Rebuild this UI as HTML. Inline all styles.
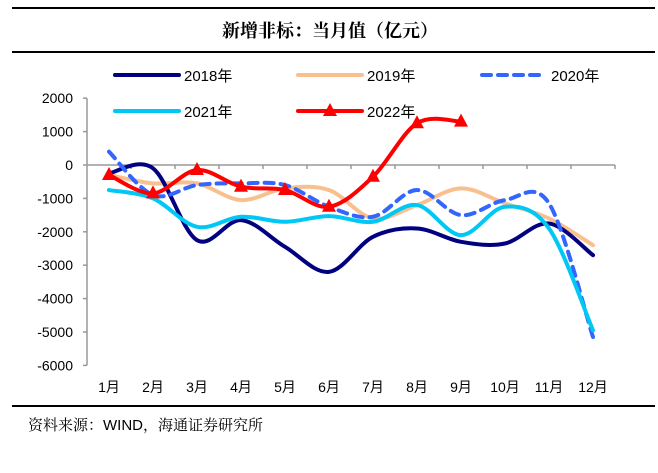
<!DOCTYPE html>
<html><head><meta charset="utf-8"><style>
body{margin:0;background:#fff;}
svg text{font-family:"Liberation Sans","Noto Sans CJK SC",sans-serif;}
</style></head><body>
<svg width="658" height="468" viewBox="0 0 658 468">
<line x1="12" y1="8" x2="655" y2="8" stroke="#000" stroke-width="2"/>
<text x="330" y="37" text-anchor="middle" font-size="18" font-weight="bold" style="font-family:'Noto Serif CJK SC','Noto Sans CJK SC',serif">新增非标：当月值（亿元）</text>
<line x1="12" y1="52" x2="655" y2="52" stroke="#000" stroke-width="2"/>
<g id="legend"></g>
<g id="axes"></g>
<g id="series"></g>
<line x1="12" y1="406" x2="655" y2="406" stroke="#000" stroke-width="2"/>
<text x="28" y="430" font-size="15" style="font-family:'Liberation Sans','Noto Serif CJK SC',serif">资料来源：WIND，海通证券研究所</text>
</svg>
<script>
const months=["1月","2月","3月","4月","5月","6月","7月","8月","9月","10月","11月","12月"];
const yTicks=[2000,1000,0,-1000,-2000,-3000,-4000,-5000,-6000];
const seriesNames=["2018年","2019年","2020年","2021年","2022年"];
const s2018=[-250,-100,-2250,-1650,-2450,-3200,-2150,-1900,-2300,-2350,-1750,-2700];
const s2019=[-300,-550,-550,-1050,-700,-750,-1600,-1200,-700,-1150,-1600,-2400];
const s2020=[400,-900,-600,-550,-600,-1250,-1550,-750,-1500,-1050,-1150,-5150];
const s2021=[-750,-1000,-1850,-1550,-1700,-1530,-1700,-1200,-2100,-1250,-1900,-4950];
const s2022=[-300,-850,-150,-650,-750,-1250,-350,1250,1300];
const NS="http://www.w3.org/2000/svg";
const x0=87,step=44,yZero=165,pxPer=33.4/1000;
function xs(i){return x0+step*(i+0.5);}
function ys(v){return yZero-v*pxPer;}
function mk(t,a,p){const e=document.createElementNS(NS,t);for(const k in a)e.setAttribute(k,a[k]);p.appendChild(e);return e;}
const axes=document.getElementById('axes');
const ax=mk('line',{x1:x0,y1:ys(2000),x2:x0,y2:ys(-6000),stroke:'#999','stroke-width':1.5},axes);


yTicks.forEach(v=>{
 const t=mk('line',{x1:x0-4,y1:ys(v),x2:x0,y2:ys(v),stroke:'#999','stroke-width':1.5},axes);
 
 
 const l=mk('text',{x:x0-14,y:ys(v)+5,'text-anchor':'end','font-size':14},axes);
 l.textContent=v;
 
 
});
const xa=mk('line',{x1:x0,y1:ys(0),x2:x0+step*months.length,y2:ys(0),stroke:'#999','stroke-width':1.5},axes);


months.forEach((m,i)=>{
 const t=mk('line',{x1:x0+step*(i+1),y1:ys(0),x2:x0+step*(i+1),y2:ys(0)+4,stroke:'#999','stroke-width':1.5},axes);
 
 
 const l=mk('text',{x:xs(i),y:392,'text-anchor':'middle','font-size':14},axes);
 l.textContent=m;
 
 
});
function smooth(vals){
 const p=vals.map((v,i)=>[xs(i),ys(v)]);
 let d=`M${p[0][0]},${p[0][1]}`;
 for(let i=0;i<p.length-1;i++){
  const a=p[i-1]||p[i],b=p[i],c=p[i+1],e=p[i+2]||c;
  const c1=[b[0]+(c[0]-a[0])/6,b[1]+(c[1]-a[1])/6],c2=[c[0]-(e[0]-b[0])/6,c[1]-(e[1]-b[1])/6];
  d+=` C${c1[0]},${c1[1]} ${c2[0]},${c2[1]} ${c[0]},${c[1]}`;
 }
 return d;
}
const sg=document.getElementById('series');
const defs=[[s2019,'#f9c08f','',4],[s2018,'#000080','',4],[s2020,'#3366ff','9 7',4],[s2021,'#00c8f5','',4],[s2022,'#ff0000','',4]];
const names=['series-2019','series-2018','series-2020','series-2021','series-2022'];
defs.forEach((d,k)=>{
 const p=mk('path',{d:smooth(d[0]),fill:'none',stroke:d[1],'stroke-width':d[3],'stroke-dasharray':d[2],'stroke-linecap':'round'},sg);
 
 
});
s2022.forEach((v,i)=>{
 const x=xs(i),y=ys(v);
 const t=mk('polygon',{points:`${x},${y-8} ${x-7},${y+5} ${x+7},${y+5}`,fill:'#ff0000'},sg);
 
 
});
const lg=document.getElementById('legend');
const lpos=[[115,75],[298,75],[482,75],[115,111],[298,111]];
const lsty=[['#000080',''],['#f9c08f',''],['#3366ff','9 7'],['#00c8f5',''],['#ff0000','']];
seriesNames.forEach((n,i)=>{
 const [x,y]=lpos[i];
 const l=mk('line',{x1:x,y1:y,x2:x+64,y2:y,stroke:lsty[i][0],'stroke-width':4,'stroke-dasharray':lsty[i][1],'stroke-linecap':'round'},lg);
 
 
 if(i===4){const t=mk('polygon',{points:`${x+32},${y-8} ${x+25},${y+5} ${x+39},${y+5}`,fill:'#ff0000'},lg);
  
  }
 const tx=mk('text',{x:x+69,y:y+6,'font-size':15},lg);
 tx.textContent=n;
 
 
});
</script>
</body></html>
